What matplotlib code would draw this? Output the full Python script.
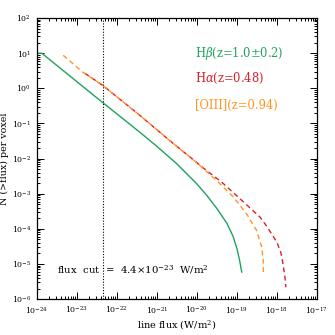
import matplotlib
matplotlib.use("Agg")
import matplotlib.pyplot as plt
from matplotlib.ticker import LogLocator, NullFormatter, FixedLocator

plt.rcParams['font.family'] = ['DejaVu Serif']
plt.rcParams['mathtext.fontset'] = 'dejavuserif'

# H-beta (z=1.0+-0.2)
hb_flux = [1.0e-24, 1.33e-24, 1.0e-23, 4.37e-23, 3.16e-22, 1.0e-21, 3.16e-21, 1.0e-20,
           1.78e-20, 3.16e-20, 5.62e-20, 7.94e-20, 1.0e-19, 1.17e-19, 1.32e-19]
hb_n = [1.0e1, 1.0e1, 1.55e0, 3.98e-1, 6.6e-2, 2.24e-2, 7.1e-3, 1.91e-3,
        8.9e-4, 3.8e-4, 1.45e-4, 6.3e-5, 2.8e-5, 1.26e-5, 5.9e-6]

# H-alpha (z=0.48)
ha_flux = [1.58e-23, 4.37e-23, 3.76e-22, 2.11e-21, 1.58e-20, 4.17e-20,
           1.19e-19, 3.76e-19, 5.62e-19, 1.0e-18, 1.26e-18, 1.41e-18,
           1.58e-18, 1.68e-18]
ha_n = [2.69e0, 1.23e0, 1.70e-1, 3.24e-2, 5.01e-3, 2.14e-3,
        7.24e-4, 2.19e-4, 1.17e-4, 4.17e-5, 2.09e-5, 1.05e-5,
        4.47e-6, 2.19e-6]

# [OIII] (z=0.94)
o3_flux = [4.57e-24, 1.41e-23, 4.37e-23, 3.76e-22, 2.11e-21, 1.0e-20, 3.09e-20,
           8.13e-20, 1.74e-19, 3.09e-19, 4.17e-19, 4.57e-19, 4.57e-19]
o3_n = [8.71e0, 2.88e0, 1.23e0, 1.70e-1, 3.24e-2, 7.59e-3, 2.40e-3,
        8.13e-4, 2.69e-4, 9.12e-5, 3.02e-5, 1.26e-5, 5.9e-6]

flux_cut = 4.4e-23

x_ticks = [1e-24, 1e-23, 1e-22, 1e-21, 1e-20, 1e-19, 1e-18, 1e-17]
y_ticks = [1e-6, 1e-5, 1e-4, 1e-3, 1e-2, 1e-1, 1e0, 1e1, 1e2]

labels = [r'H$\beta$(z=1.0$\pm$0.2)', r'H$\alpha$(z=0.48)', '[OIII](z=0.94)']
colors = ['#1fa35c', '#d9202b', '#ff9421']

fig = plt.figure(figsize=(3.35, 3.35), dpi=100)
ax = fig.add_axes([0.110, 0.107, 0.836, 0.839])

ax.plot(hb_flux, hb_n, color=colors[0], lw=1.0)
ax.plot(ha_flux, ha_n, color=colors[1], lw=1.0, dashes=(3.5, 2.5))
ax.plot(o3_flux, o3_n, color=colors[2], lw=1.0, dashes=(3.5, 2.5))
ax.axvline(flux_cut, color='black', lw=0.8, ls=(0, (1, 1.5)))

ax.set_xscale('log')
ax.set_yscale('log')
ax.set_xlim(1e-24, 1e-17)
ax.set_ylim(1e-6, 1e2)

ax.xaxis.set_major_locator(FixedLocator(x_ticks))
ax.yaxis.set_major_locator(FixedLocator(y_ticks))
ax.xaxis.set_minor_locator(LogLocator(base=10, subs=range(2, 10), numticks=100))
ax.yaxis.set_minor_locator(LogLocator(base=10, subs=range(2, 10), numticks=100))
ax.xaxis.set_minor_formatter(NullFormatter())
ax.yaxis.set_minor_formatter(NullFormatter())

ax.tick_params(which='both', direction='in', top=True, right=True, labelsize=5.6, width=0.7)
ax.tick_params(which='major', length=5, pad=4)
ax.tick_params(which='minor', length=2.5)
for s in ax.spines.values():
    s.set_linewidth(0.9)

ax.set_xlabel('line flux (W/m$^2$)', fontsize=7, labelpad=2)
ax.set_ylabel('N (>flux) per voxel', fontsize=6.8, labelpad=2)

ys = [0.875, 0.785, 0.690]
for lab, c, yy in zip(labels, colors, ys):
    ax.text(0.565, yy, lab, color=c, fontsize=8.3, transform=ax.transAxes, va='center')

ax.text(0.073, 0.105, r'flux  cut  =  4.4$\times$10$^{-23}$  W/m$^2$', fontsize=7.3,
        transform=ax.transAxes, va='center')

fig.savefig('out.png', dpi=100)
